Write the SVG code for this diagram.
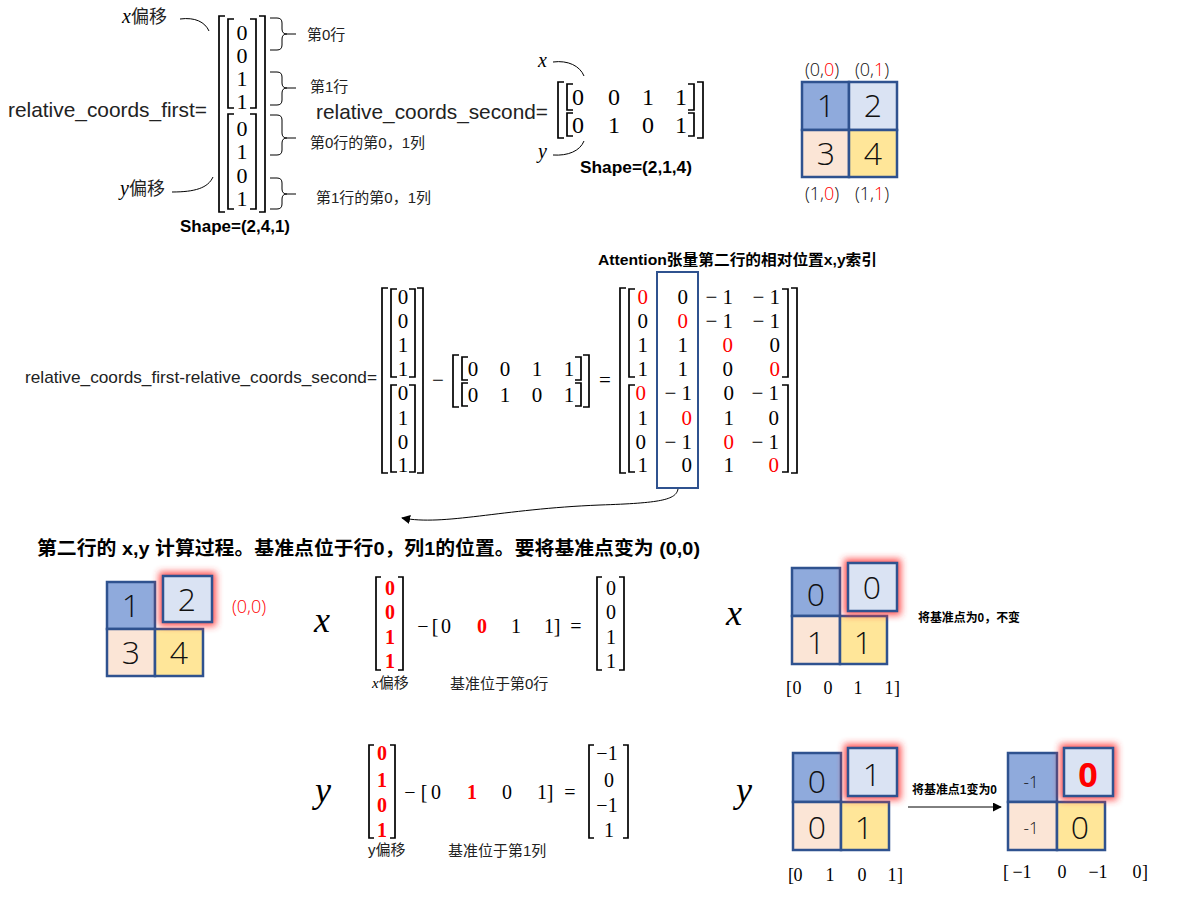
<svg xmlns="http://www.w3.org/2000/svg" width="1184" height="899" viewBox="0 0 1184 899">
<defs>
<style>
.sans{font-family:"Liberation Sans","Noto Sans CJK SC",sans-serif;fill:#000}
.cjk{font-family:"Liberation Sans","Noto Sans CJK SC",sans-serif;fill:#222}
.bold{font-weight:bold}
.serif{font-family:"Liberation Serif","DejaVu Serif",serif;fill:#000}
.it{font-style:italic}
.br{fill:none;stroke:#000;stroke-width:1.7}
.ln{fill:none;stroke:#000;stroke-width:1}
.cell{stroke:#2F528F;stroke-width:2.5}
.c1{fill:#8FAADC}.c2{fill:#DAE3F3}.c3{fill:#FBE5D6}.c4{fill:#FFE699}
.glow{fill:#FF3030;opacity:0.85}
.cn{font-family:"Open Sans","Liberation Sans",sans-serif;font-weight:300;font-size:32px;fill:#111;text-anchor:middle}
.cs{font-size:17px}
.cb{font-weight:bold;font-size:34px}
.lab{font-family:"Open Sans","Liberation Sans",sans-serif;font-weight:300;font-size:18px;fill:#111;text-anchor:middle}
.red{fill:#FF0000}
.m{text-anchor:middle}
.e{text-anchor:end}
</style>
<filter id="blur" x="-50%" y="-50%" width="200%" height="200%"><feGaussianBlur stdDeviation="3.5"/></filter>
<marker id="ah" viewBox="0 0 10 10" refX="9" refY="5" markerWidth="9" markerHeight="9" markerUnits="userSpaceOnUse" orient="auto"><path d="M0,0 L10,5 L0,10 z" fill="#000"/></marker>
</defs>
<rect width="1184" height="899" fill="#fff"/>

<g id="connectors">
<path class="ln" d="M180,19 C195,17 205,22 209,31"/>
<path class="ln" d="M172,192 C195,192 208,188 213,177"/>
<path class="ln" d="M270,18 H277 Q282,18 282,23 V29 Q282,34 287,34 H296 M287,34 Q282,34 282,39 V45 Q282,50 277,50 H270"/>
<path class="ln" d="M270,72 H277 Q282,72 282,77 V83 Q282,88 287,88 H296 M287,88 Q282,88 282,93 V100 Q282,105 277,105 H270"/>
<path class="ln" d="M270,115 H277 Q282,115 282,120 V133 Q282,138 287,138 H296 M287,138 Q282,138 282,143 V150 Q282,155 277,155 H270"/>
<path class="ln" d="M270,178 H277 Q282,178 282,183 V189 Q282,194 287,194 H296 M287,194 Q282,194 282,199 V204 Q282,209 277,209 H270"/>
<path class="ln" d="M553,62 C568,60 580,66 584,76"/>
<path class="ln" d="M553,155 C568,156 580,151 584,141"/>
<path class="ln" d="M678,489 C676,500 660,503 600,505 C500,509 445,526 402,518" marker-end="url(#ah)"/>
<path class="ln" d="M908,807 H1001" marker-end="url(#ah)"/>
</g>

<g id="first-matrix">
<text class="serif it" x="122" y="23" font-size="20">x<tspan class="cjk" font-style="normal" font-size="18">偏移</tspan></text>
<text class="serif it" x="120" y="195" font-size="20">y<tspan class="cjk" font-style="normal" font-size="18">偏移</tspan></text>
<text class="cjk" x="8" y="117" font-size="21" textLength="199" lengthAdjust="spacingAndGlyphs">relative_coords_first=</text>
<path class="br" d="M225,16 H219 V212 H225 M234,19 H228 V108 H234 M234,114 H228 V209 H234 M250,19 H256 V108 H250 M250,114 H256 V209 H250 M259,16 H265 V212 H259"/>
<g class="serif m" font-size="22">
<text x="242" y="40">0</text><text x="242" y="63">0</text><text x="242" y="86">1</text><text x="242" y="109">1</text>
<text x="242" y="136">0</text><text x="242" y="159">1</text><text x="242" y="183">0</text><text x="242" y="206">1</text>
</g>
<g class="cjk" font-size="15">
<text x="307" y="40">第0行</text>
<text x="310" y="92">第1行</text>
<text x="310" y="148">第0行的第0，1列</text>
<text x="316" y="203">第1行的第0，1列</text>
</g>
<text class="sans bold" x="180" y="232" font-size="16" textLength="110" lengthAdjust="spacingAndGlyphs">Shape=(2,4,1)</text>
</g>

<g id="second-matrix">
<text class="cjk" x="316" y="119" font-size="21" textLength="232" lengthAdjust="spacingAndGlyphs">relative_coords_second=</text>
<text class="serif it" x="538" y="67" font-size="20">x</text>
<text class="serif it" x="538" y="158" font-size="20">y</text>
<path class="br" d="M564,82 H558 V138 H564 M573,84 H567 V110 H573 M573,113 H567 V136 H573 M688,84 H694 V110 H688 M688,113 H694 V136 H688 M697,82 H703 V138 H697"/>
<g class="serif m" font-size="24">
<text x="578" y="105">0</text><text x="614" y="105">0</text><text x="648" y="105">1</text><text x="681" y="105">1</text>
<text x="578" y="133">0</text><text x="614" y="133">1</text><text x="648" y="133">0</text><text x="681" y="133">1</text>
</g>
<text class="sans bold" x="580" y="173" font-size="16" textLength="112" lengthAdjust="spacingAndGlyphs">Shape=(2,1,4)</text>
</g>

<g id="grid-top">
<rect class="cell c1" x="802" y="82" width="47" height="48"/>
<rect class="cell c2" x="849" y="82" width="48" height="48"/>
<rect class="cell c3" x="802" y="130" width="47" height="47"/>
<rect class="cell c4" x="849" y="130" width="48" height="47"/>
<text class="cn" x="826" y="117">1</text><text class="cn" x="873" y="117">2</text>
<text class="cn" x="826" y="165">3</text><text class="cn" x="873" y="165">4</text>
<text class="lab" x="822" y="76">(0,<tspan class="red">0</tspan>)</text>
<text class="lab" x="872" y="76">(0,<tspan class="red">1</tspan>)</text>
<text class="lab" x="822" y="200">(1,<tspan class="red">0</tspan>)</text>
<text class="lab" x="872" y="200">(1,<tspan class="red">1</tspan>)</text>
</g>

<g id="difference">
<text class="sans bold" x="598" y="265" font-size="15" textLength="279" lengthAdjust="spacingAndGlyphs">Attention张量第二行的相对位置x,y索引</text>
<text class="cjk" x="25" y="383" font-size="17" textLength="352" lengthAdjust="spacingAndGlyphs">relative_coords_first-relative_coords_second=</text>
<path class="br" d="M388,288 H382 V473 H388 M397,289 H391 V377 H397 M397,385 H391 V472 H397 M409,289 H415 V377 H409 M409,385 H415 V472 H409 M417,288 H423 V473 H417"/>
<g class="serif m" font-size="21">
<text x="403" y="304">0</text><text x="403" y="328">0</text><text x="403" y="352">1</text><text x="403" y="376">1</text>
<text x="403" y="400">0</text><text x="403" y="425">1</text><text x="403" y="449">0</text><text x="403" y="472">1</text>
<text x="438" y="387">−</text>
<text x="605" y="387">=</text>
</g>
<path class="br" d="M459,355 H453 V407 H459 M468,357 H462 V380 H468 M468,383 H462 V406 H468 M575,357 H581 V380 H575 M575,383 H581 V406 H575 M583,355 H589 V407 H583"/>
<g class="serif m" font-size="21">
<text x="473" y="376">0</text><text x="505" y="376">0</text><text x="537" y="376">1</text><text x="569" y="376">1</text>
<text x="473" y="402">0</text><text x="505" y="402">1</text><text x="537" y="402">0</text><text x="569" y="402">1</text>
</g>
<path class="br" d="M626,288 H620 V473 H626 M635,289 H629 V377 H635 M635,385 H629 V472 H635 M782,289 H788 V377 H782 M782,385 H788 V472 H782 M791,288 H797 V473 H791"/>
<g class="serif e" font-size="21">
<text x="648" y="304" class="red">0</text><text x="688" y="304">0</text><text x="733" y="304">− 1</text><text x="780" y="304">− 1</text>
<text x="648" y="328">0</text><text x="688" y="328" class="red">0</text><text x="733" y="328">− 1</text><text x="780" y="328">− 1</text>
<text x="648" y="352">1</text><text x="688" y="352">1</text><text x="733" y="352" class="red">0</text><text x="780" y="352">0</text>
<text x="648" y="376">1</text><text x="688" y="376">1</text><text x="733" y="376">0</text><text x="780" y="376" class="red">0</text>
<text x="646" y="400" class="red">0</text><text x="692" y="400">− 1</text><text x="734" y="400">0</text><text x="779" y="400">− 1</text>
<text x="648" y="425">1</text><text x="692" y="425" class="red">0</text><text x="734" y="425">1</text><text x="779" y="425">0</text>
<text x="646" y="449">0</text><text x="692" y="449">− 1</text><text x="734" y="449" class="red">0</text><text x="779" y="449">− 1</text>
<text x="648" y="472">1</text><text x="692" y="472">0</text><text x="734" y="472">1</text><text x="779" y="472" class="red">0</text>
</g>
<rect x="657" y="272" width="41" height="216" fill="none" stroke="#2F528F" stroke-width="2"/>
</g>

<g id="title-bottom">
<text class="sans bold" x="37" y="555" font-size="19" textLength="663" lengthAdjust="spacingAndGlyphs">第二行的 x,y 计算过程。基准点位于行0，列1的位置。要将基准点变为 (0,0)</text>
</g>

<g id="grid-base">
<rect class="cell c1" x="107" y="582" width="48" height="47"/>
<rect class="cell c3" x="107" y="629" width="48" height="47"/>
<rect class="cell c4" x="155" y="629" width="48" height="47"/>
<rect class="glow" x="159" y="572" width="57" height="54" filter="url(#blur)"/>
<rect class="cell c2" x="163" y="576" width="49" height="46"/>
<text class="cn" x="131" y="617">1</text><text class="cn" x="187" y="611">2</text>
<text class="cn" x="131" y="664">3</text><text class="cn" x="179" y="664">4</text>
<text class="lab red" x="249" y="613">(0,0)</text>
</g>

<g id="x-calc">
<text class="serif it" x="314" y="632" font-size="36">x</text>
<path class="br" d="M381,577 H376 V670 H381 M398,577 H403 V670 H398"/>
<g class="serif m bold red" font-size="20">
<text x="390" y="595">0</text><text x="390" y="619">0</text><text x="390" y="644">1</text><text x="390" y="668">1</text>
</g>
<g class="serif m" font-size="20">
<text x="423" y="633">−</text>
<text x="435" y="633">[</text><text x="446" y="633">0</text><text x="482" y="633" class="bold red">0</text><text x="516" y="633">1</text><text x="549" y="633">1</text><text x="557" y="633">]</text>
<text x="576" y="633">=</text>
<text x="611" y="595">0</text><text x="611" y="619">0</text><text x="611" y="644">1</text><text x="611" y="668">1</text>
</g>
<path class="br" d="M602,577 H597 V670 H602 M619,577 H624 V670 H619"/>
<text class="serif it" x="372" y="688" font-size="15">x<tspan class="cjk" font-style="normal" font-size="15">偏移</tspan></text>
<text class="cjk" x="450" y="689" font-size="15">基准位于第0行</text>
</g>

<g id="x-result">
<text class="serif it" x="726" y="625" font-size="36">x</text>
<rect class="cell c1" x="792" y="568" width="48" height="48"/>
<rect class="cell c3" x="792" y="616" width="48" height="48"/>
<rect class="cell c4" x="840" y="616" width="47" height="48"/>
<rect class="glow" x="844" y="559" width="57" height="56" filter="url(#blur)"/>
<rect class="cell c2" x="848" y="563" width="49" height="48"/>
<text class="cn" x="816" y="606">0</text><text class="cn" x="872" y="599">0</text>
<text class="cn" x="816" y="654">1</text><text class="cn" x="863" y="654">1</text>
<text class="sans bold" x="918" y="622" font-size="12" textLength="102" lengthAdjust="spacingAndGlyphs">将基准点为0，不变</text>
<g class="serif m" font-size="18">
<text x="789" y="694">[</text><text x="797" y="694">0</text><text x="828" y="694">0</text><text x="858" y="694">1</text><text x="889" y="694">1</text><text x="897" y="694">]</text>
</g>
</g>

<g id="y-calc">
<text class="serif it" x="315" y="802" font-size="36">y</text>
<path class="br" d="M374,745 H369 V838 H374 M390,745 H395 V838 H390"/>
<g class="serif m bold red" font-size="20">
<text x="382" y="760">0</text><text x="382" y="787">1</text><text x="382" y="812">0</text><text x="382" y="837">1</text>
</g>
<g class="serif m" font-size="20">
<text x="410" y="799">−</text>
<text x="424" y="799">[</text><text x="436" y="799">0</text><text x="472" y="799" class="bold red">1</text><text x="507" y="799">0</text><text x="542" y="799">1</text><text x="550" y="799">]</text>
<text x="570" y="799">=</text>
<text x="607" y="760">−1</text><text x="609" y="787">0</text><text x="607" y="812">−1</text><text x="609" y="837">1</text>
</g>
<path class="br" d="M594,745 H589 V838 H594 M623,745 H628 V838 H623"/>
<text class="cjk" x="368" y="855" font-size="15">y偏移</text>
<text class="cjk" x="448" y="856" font-size="15">基准位于第1列</text>
</g>

<g id="y-result">
<text class="serif it" x="736" y="802" font-size="36">y</text>
<rect class="cell c1" x="793" y="753" width="48" height="49"/>
<rect class="cell c3" x="793" y="802" width="48" height="48"/>
<rect class="cell c4" x="841" y="802" width="48" height="48"/>
<rect class="glow" x="844" y="744" width="57" height="56" filter="url(#blur)"/>
<rect class="cell c2" x="848" y="748" width="49" height="48"/>
<text class="cn" x="817" y="793">0</text><text class="cn" x="872" y="786">1</text>
<text class="cn" x="817" y="839">0</text><text class="cn" x="864" y="839">1</text>
<text class="sans bold" x="912" y="794" font-size="12" textLength="85" lengthAdjust="spacingAndGlyphs">将基准点1变为0</text>
<g class="serif m" font-size="18">
<text x="791" y="881">[</text><text x="798" y="881">0</text><text x="830" y="881">1</text><text x="862" y="881">0</text><text x="892" y="881">1</text><text x="900" y="881">]</text>
</g>
</g>

<g id="y-shifted">
<rect class="cell c1" x="1008" y="753" width="49" height="49"/>
<rect class="cell c3" x="1008" y="802" width="49" height="48"/>
<rect class="cell c4" x="1057" y="802" width="48" height="48"/>
<rect class="glow" x="1060" y="744" width="57" height="56" filter="url(#blur)"/>
<rect class="cell c2" x="1064" y="748" width="49" height="48"/>
<text class="cn cs" x="1031" y="788">-1</text>
<text class="cn cb red" x="1088" y="787">0</text>
<text class="cn cs" x="1031" y="834">-1</text>
<text class="cn" x="1080" y="839">0</text>
<g class="serif m" font-size="18">
<text x="1006" y="878">[</text><text x="1022" y="878">−1</text><text x="1062" y="878">0</text><text x="1098" y="878">−1</text><text x="1137" y="878">0</text><text x="1145" y="878">]</text>
</g>
</g>
</svg>
